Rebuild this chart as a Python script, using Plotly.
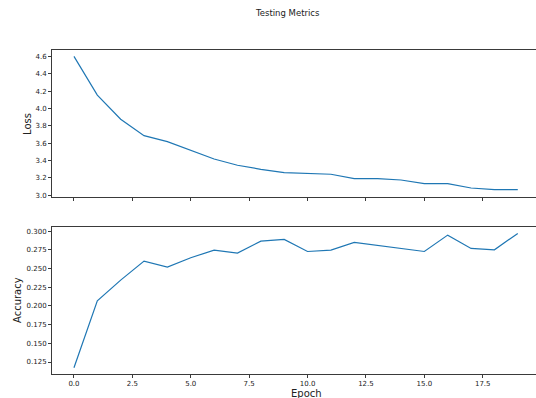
import plotly.graph_objects as go

epochs = list(range(20))
loss = [4.60, 4.155, 3.876, 3.688, 3.619, 3.519, 3.419, 3.347, 3.30, 3.262,
        3.252, 3.243, 3.193, 3.193, 3.177, 3.135, 3.135, 3.085, 3.067, 3.067]
accuracy = [0.1174, 0.2067, 0.2344, 0.2598, 0.2518, 0.2643, 0.2746, 0.2705, 0.2866, 0.2888,
            0.2727, 0.2746, 0.2848, 0.2808, 0.2768, 0.2727, 0.2946, 0.2768, 0.2750, 0.2969]

x_ticks = [0, 2.5, 5.0, 7.5, 10.0, 12.5, 15.0, 17.5]
x_tick_labels = ["0.0", "2.5", "5.0", "7.5", "10.0", "12.5", "15.0", "17.5"]
loss_ticks = [3.0, 3.2, 3.4, 3.6, 3.8, 4.0, 4.2, 4.4, 4.6]
loss_tick_labels = ["3.0", "3.2", "3.4", "3.6", "3.8", "4.0", "4.2", "4.4", "4.6"]
acc_ticks = [0.125, 0.150, 0.175, 0.200, 0.225, 0.250, 0.275, 0.300]
acc_tick_labels = ["0.125", "0.150", "0.175", "0.200", "0.225", "0.250", "0.275", "0.300"]

LINE = "#1f77b4"
SPINE = "#3a3a3a"
FONT = "DejaVu Sans"

fig = go.Figure()
fig.add_trace(go.Scatter(x=epochs, y=loss, mode="lines", line=dict(color=LINE, width=1.2),
                         xaxis="x", yaxis="y", showlegend=False))
fig.add_trace(go.Scatter(x=epochs, y=accuracy, mode="lines", line=dict(color=LINE, width=1.2),
                         xaxis="x2", yaxis="y2", showlegend=False))

xcommon = dict(range=[-0.94, 19.78], showgrid=False, zeroline=False, showline=True,
               linecolor=SPINE, linewidth=1, mirror=True, ticks="outside", ticklen=3,
               tickcolor=SPINE, tickvals=x_ticks, ticktext=x_tick_labels,
               tickfont=dict(family=FONT, size=7, color="#222"))
ycommon = dict(showgrid=False, zeroline=False, showline=True, linecolor=SPINE, linewidth=1,
               mirror=False, ticks="outside", ticklen=3, tickcolor=SPINE,
               tickfont=dict(family=FONT, size=7, color="#222"))

L, R, T, B = 52, 0, 50, 24
W, H = 536, 398

fig.update_layout(
    width=W, height=H,
    margin=dict(l=L, r=R, t=T, b=B, autoexpand=False),
    paper_bgcolor="white", plot_bgcolor="white",
    xaxis=dict(**xcommon, domain=[0, 1], anchor="y", showticklabels=False),
    yaxis=dict(**ycommon, domain=[0.546, 1], anchor="x", range=[2.98, 4.674],
               tickvals=loss_ticks, ticktext=loss_tick_labels),
    xaxis2=dict(**xcommon, domain=[0, 1], anchor="y2", matches="x"),
    yaxis2=dict(**ycommon, domain=[0, 0.4527], anchor="x2", range=[0.109, 0.305],
                tickvals=acc_ticks, ticktext=acc_tick_labels),
)

pw, ph = W - L - R, H - T - B


def add_label(text, px, py, size, angle=0):
    fig.add_annotation(text=text, x=(px - L) / pw, y=(H - py - B) / ph, xref="paper", yref="paper",
                       xanchor="center", yanchor="middle", showarrow=False, textangle=angle,
                       font=dict(family=FONT, size=size, color="#222"))


add_label("Testing Metrics", 287, 13, 8.5)
add_label("Loss", 27, 124, 10, -90)
add_label("Accuracy", 17, 300, 10, -90)
add_label("Epoch", 306, 393, 10)

fig.write_html("out.html", config={"displayModeBar": False},
               post_script="document.body.style.margin='0';document.body.style.overflow='hidden';")
